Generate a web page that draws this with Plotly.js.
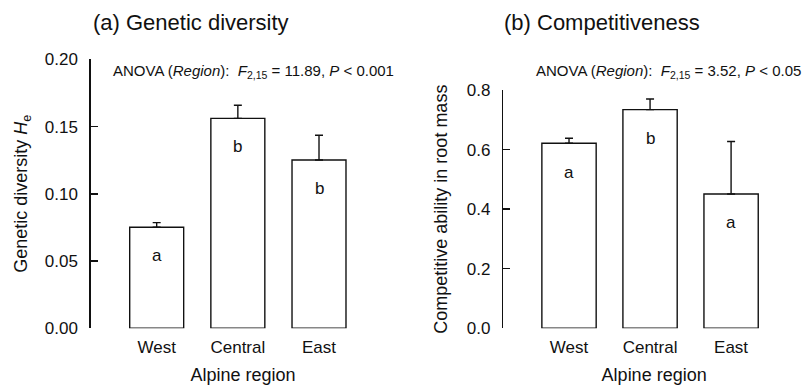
<!DOCTYPE html>
<html>
<head>
<meta charset="utf-8">
<script src="https://cdn.plot.ly/plotly-3.0.1.min.js"></script>
<style>html,body{margin:0;padding:0;background:#fff;}#chart{width:805px;height:387px;}</style>
</head>
<body>
<div id="chart"></div>
<script>
// Data
var regions = ["West", "Central", "East"];
var diversityMean = [0.0751, 0.1561, 0.1251];
var diversitySE = [0.0035, 0.0097, 0.0184];
var diversityLetters = ["a", "b", "b"];
var competMean = [0.621, 0.734, 0.451];
var competSE = [0.017, 0.036, 0.176];
var competLetters = ["a", "b", "a"];
var yTicksA = [0, 0.05, 0.10, 0.15, 0.20];
var yTicksB = [0, 0.2, 0.4, 0.6, 0.8];

var W = 805, H = 387;
var FONT = "Liberation Sans, Arial, Helvetica, sans-serif";
var INK = "#111";
function px(x){ return x / W; }
function py(y){ return 1 - y / H; }

var zeros = regions.map(function(){ return 0; });

var barStyle = {
  color: "#ffffff",
  line: {color: INK, width: 1.4}
};

var traces = [
  {
    type: "bar", x: regions, y: diversityMean, xaxis: "x", yaxis: "y",
    width: 0.665, marker: barStyle,
    error_y: {type: "data", symmetric: false, array: diversitySE, arrayminus: zeros,
      color: INK, thickness: 1.4, width: 4},
    hoverinfo: "x+y", showlegend: false
  },
  {
    type: "bar", x: regions, y: competMean, xaxis: "x2", yaxis: "y2",
    width: 0.67, marker: barStyle,
    error_y: {type: "data", symmetric: false, array: competSE, arrayminus: zeros,
      color: INK, thickness: 1.4, width: 4},
    hoverinfo: "x+y", showlegend: false
  }
];

var annotations = [];
regions.forEach(function(r, i){
  annotations.push({xref: "x", yref: "y", x: r, y: diversityMean[i], text: diversityLetters[i],
    showarrow: false, yshift: -28, font: {family: FONT, size: 17, color: INK}});
  annotations.push({xref: "x2", yref: "y2", x: r, y: competMean[i], text: competLetters[i],
    showarrow: false, yshift: -29, font: {family: FONT, size: 17, color: INK}});
});

annotations.push({xref: "paper", yref: "paper", x: px(91), y: py(22.5), xanchor: "left", yanchor: "middle",
  text: "(a) Genetic diversity", showarrow: false, font: {family: FONT, size: 22, color: INK}});
annotations.push({xref: "paper", yref: "paper", x: px(502), y: py(22.5), xanchor: "left", yanchor: "middle",
  text: "(b) Competitiveness", showarrow: false, font: {family: FONT, size: 22, color: INK}});

annotations.push({xref: "paper", yref: "paper", x: px(111), y: py(71.5), xanchor: "left", yanchor: "middle",
  text: "ANOVA (<i>Region</i>):  <i>F</i><sub>2,15</sub> = 11.89, <i>P</i> &lt; 0.001", showarrow: false,
  font: {family: FONT, size: 15, color: INK}});
annotations.push({xref: "paper", yref: "paper", x: px(534), y: py(71.5), xanchor: "left", yanchor: "middle",
  text: "ANOVA (<i>Region</i>):  <i>F</i><sub>2,15</sub> = 3.52, <i>P</i> &lt; 0.05", showarrow: false,
  font: {family: FONT, size: 15, color: INK}});

var yCommon = {
  showline: true, linecolor: INK, linewidth: 1.4,
  ticks: "inside", ticklen: 7, tickwidth: 1.4, tickcolor: INK,
  showgrid: false, zeroline: false, tickmode: "array",
  tickfont: {family: FONT, size: 17, color: INK},
  ticklabelstandoff: 8
};
var xCommon = {
  type: "category", showline: false, ticks: "", showgrid: false, zeroline: false,
  tickfont: {family: FONT, size: 17, color: INK},
  ticklabelstandoff: 7
};

var layout = {
  width: W, height: H,
  margin: {l: 0, r: 0, t: 0, b: 0},
  paper_bgcolor: "#fff", plot_bgcolor: "rgba(0,0,0,0)",
  font: {family: FONT, color: INK},
  bargap: 0.3,
  xaxis: Object.assign({}, xCommon, {
    domain: [px(90.7), px(395.3)], range: [-0.813, 2.94], anchor: "y",
    title: {text: "Alpine region", font: {family: FONT, size: 18, color: INK}, standoff: 12}
  }),
  yaxis: Object.assign({}, yCommon, {
    domain: [py(328.3), py(59.3)], range: [0, 0.2], anchor: "x",
    tickvals: yTicksA, tickformat: ".2f",
    title: {text: "Genetic diversity <i>H</i><sub>e</sub>", font: {family: FONT, size: 18, color: INK}, standoff: 12}
  }),
  xaxis2: Object.assign({}, xCommon, {
    domain: [px(503.3), 1], range: [-0.811, 2.912], anchor: "y2",
    title: {text: "Alpine region", font: {family: FONT, size: 18, color: INK}, standoff: 12}
  }),
  yaxis2: Object.assign({}, yCommon, {
    domain: [py(328.3), py(90)], range: [0, 0.8], anchor: "x2",
    tickvals: yTicksB, tickformat: ".1f",
    title: {text: "Competitive ability in root mass", font: {family: FONT, size: 18, color: INK}, standoff: 14}
  }),
  annotations: annotations
};

Plotly.newPlot("chart", traces, layout, {displayModeBar: false, staticPlot: true});
</script>
</body>
</html>
